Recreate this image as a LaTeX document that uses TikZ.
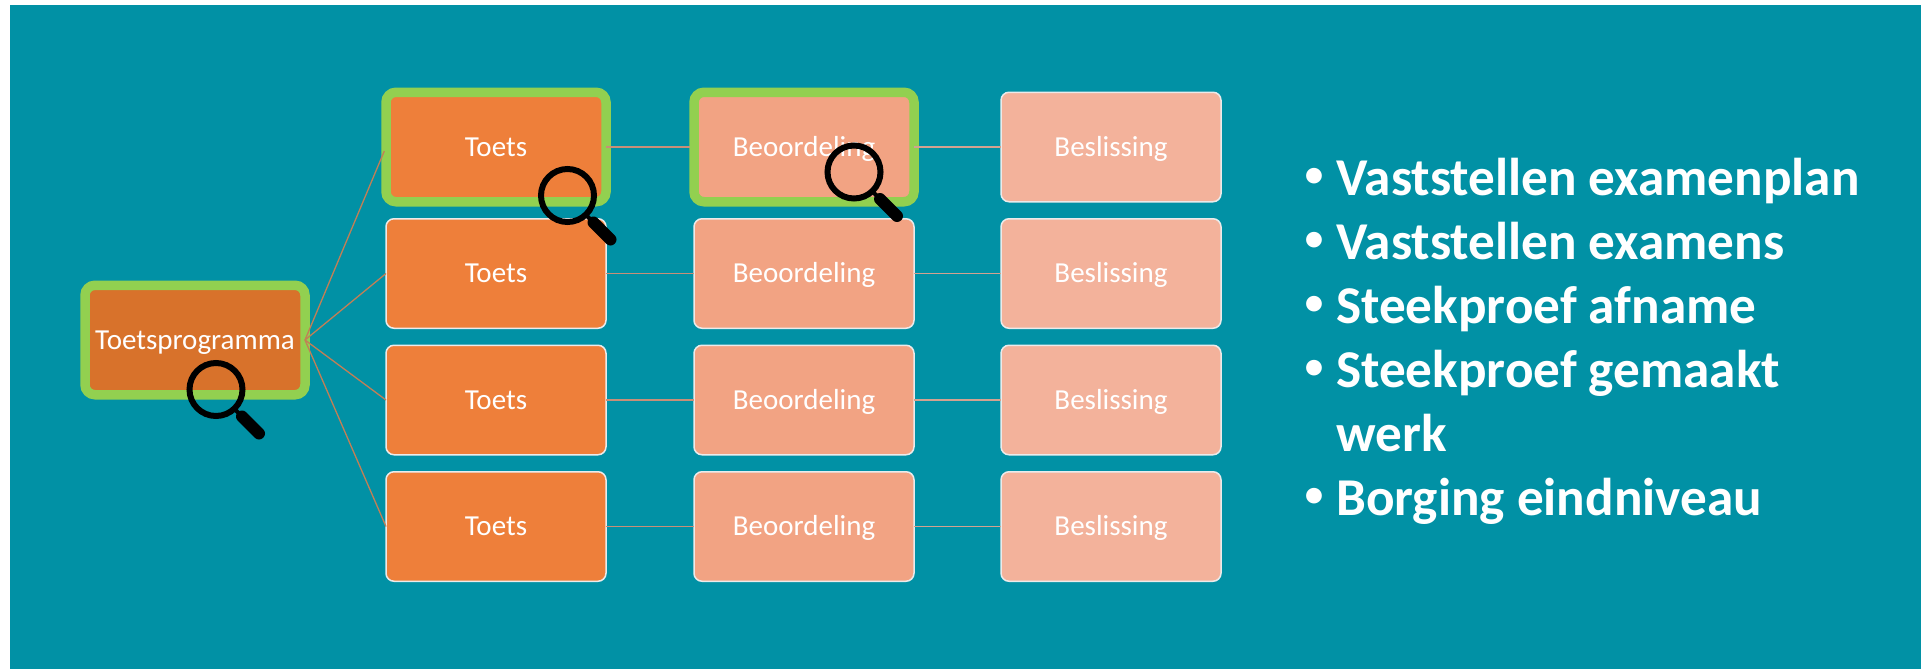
\documentclass[tikz,border=0pt]{standalone}
\usepackage{fontspec}
\setmainfont{Carlito}
\usepackage{xcolor}
\usetikzlibrary{positioning}

\definecolor{tealbg}{HTML}{0191A5}
\definecolor{ringgreen}{HTML}{92D050}
\definecolor{rootfill}{HTML}{D8722B}
\definecolor{toetsfill}{HTML}{EE7F3A}
\definecolor{beoordfill}{HTML}{F2A383}
\definecolor{beslisfill}{HTML}{F3B29B}

\newcommand{\bulletmark}{\llap{\raisebox{9pt}{\fontsize{37}{39}\selectfont\textbullet}\hspace{13pt}}}

\tikzset{
	box/.style={rectangle, rounded corners=8pt, draw=white!92!black, line width=1.5pt, text=white,
		minimum width=220pt, minimum height=109.5pt, inner sep=0pt, outer sep=0pt,
		text height=18pt, text depth=0pt, font=\fontsize{29}{31}\selectfont},
	ringed/.style={draw=ringgreen, line width=9.5pt, rounded corners=10pt},
	conn/.style={line width=1.3pt},
	magnifier/.pic={
		\draw[line width=6pt] (0,0) circle[radius=26.5pt];
		\draw[line width=4pt] (19,20) -- (26,27);
		\draw[line width=12pt, line cap=round] (26,27) -- (43,44);
	}
}

\begin{document}
\begin{tikzpicture}[x=1pt, y=-1pt]
\useasboundingbox (0,0) rectangle (1921,669);
\fill[white] (0,0) rectangle (1921,669);
\fill[tealbg] (10,5) rectangle (1921,669);

\node[box, ringed, fill=rootfill] (root) at (195,340) {Toetsprogramma};

\node[box, ringed, fill=toetsfill] (toets1) at (496,147) {Toets};
\node[box, fill=toetsfill, below=17pt of toets1] (toets2) {Toets};
\node[box, fill=toetsfill, below=17pt of toets2] (toets3) {Toets};
\node[box, fill=toetsfill, below=17pt of toets3] (toets4) {Toets};

\node[box, ringed, fill=beoordfill, right=88pt of toets1] (beoord1) {Beoordeling};
\node[box, fill=beoordfill, right=88pt of toets2] (beoord2) {Beoordeling};
\node[box, fill=beoordfill, right=88pt of toets3] (beoord3) {Beoordeling};
\node[box, fill=beoordfill, right=88pt of toets4] (beoord4) {Beoordeling};

\node[box, fill=beslisfill, right=87pt of beoord1] (beslis1) {Beslissing};
\node[box, fill=beslisfill, right=87pt of beoord2] (beslis2) {Beslissing};
\node[box, fill=beslisfill, right=87pt of beoord3] (beslis3) {Beslissing};
\node[box, fill=beslisfill, right=87pt of beoord4] (beslis4) {Beslissing};

\draw[conn, draw=toetsfill!75!black!80, shorten >=4.5pt] (root.east) -- (toets1.west);
\draw[conn, draw=toetsfill!75!black!80] (root.east) -- (toets2.west);
\draw[conn, draw=toetsfill!75!black!80] (root.east) -- (toets3.west);
\draw[conn, draw=toetsfill!75!black!80] (root.east) -- (toets4.west);

\draw[conn, draw=beoordfill!80!black!90, shorten >=4.5pt] (toets1.east) -- (beoord1.west);
\draw[conn, draw=beoordfill!80!black!90] (toets2.east) -- (beoord2.west);
\draw[conn, draw=beoordfill!80!black!90] (toets3.east) -- (beoord3.west);
\draw[conn, draw=beoordfill!80!black!90] (toets4.east) -- (beoord4.west);

\draw[conn, draw=beslisfill!85!black!90] (beoord1.east) -- (beslis1.west);
\draw[conn, draw=beslisfill!85!black!90] (beoord2.east) -- (beslis2.west);
\draw[conn, draw=beslisfill!85!black!90] (beoord3.east) -- (beslis3.west);
\draw[conn, draw=beslisfill!85!black!90] (beoord4.east) -- (beslis4.west);

\pic at (216,389.5) {magnifier};
\pic at (567.5,195.5) {magnifier};
\pic at (854,172) {magnifier};

\node[anchor=north west, inner sep=0pt, text=white, align=left,
	font=\fontsize{53.2}{64}\selectfont\bfseries] (criteria) at (1336,157.5) {%
	\bulletmark Vaststellen examenplan\\
	\bulletmark Vaststellen examens\\
	\bulletmark Steekproef afname\\
	\bulletmark Steekproef gemaakt\\
	werk\\
	\bulletmark Borging eindniveau};
\end{tikzpicture}
\end{document}
